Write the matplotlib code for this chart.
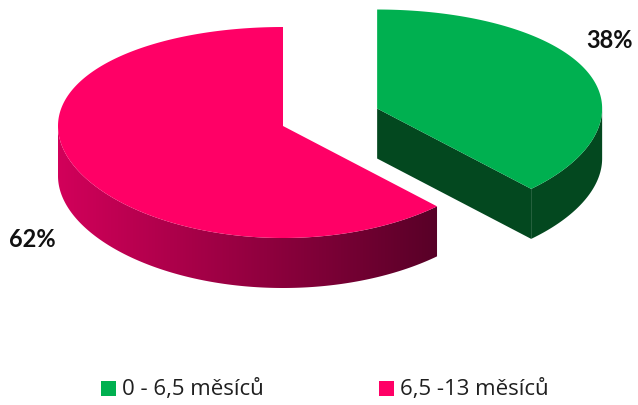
import numpy as np
import matplotlib.pyplot as plt
from matplotlib.patches import Polygon, Rectangle
from matplotlib.colors import to_rgb

# data
labels = ['0 - 6,5 měsíců', '6,5 -13 měsíců']
shares = [38, 62]

top_colors = ['#00B050', '#FF0066']
side_light = ['#03481F', '#D2005A']
side_dark = ['#03481F', '#580027']
explode = [0.45, 0.0]
label_pos = [(610, 40), (32, 240)]

W, H = 638, 406
fig = plt.figure(figsize=(W / 100, H / 100), dpi=100)
ax = fig.add_axes([0, 0, 1, 1])
ax.set_xlim(0, W)
ax.set_ylim(H, 0)
ax.axis('off')

plt.rcParams['font.family'] = ['Lato', 'DejaVu Sans']

cx, cy = 283, 127
rx = 225
ry_mid, ry_bend = 105.5, 6.5   # slight perspective: front half taller than back
depth = 50


def proj(x0, y0, t, r=1.0):
    u, v = r * np.cos(t), r * np.sin(t)
    return x0 + rx * u, y0 - ry_mid * v + ry_bend * v * v


def side_gradient(poly, x0, x1, c0, c1):
    # horizontal colour ramp clipped to the wall outline
    f = np.linspace(0, 1, 256)[None, :, None]
    a, b = np.array(to_rgb(c0)), np.array(to_rgb(c1))
    img = a + (b - a) * f
    ys = [p[1] for p in poly]
    im = ax.imshow(img, extent=(x0, x1, max(ys) + 1, min(ys) - 1),
                   aspect='auto', interpolation='bilinear', zorder=1)
    patch = Polygon(poly, closed=True, fc='none', ec='none')
    ax.add_patch(patch)
    im.set_clip_path(patch)


start = 90.0
for i, share in enumerate(shares):
    a0 = np.deg2rad(start)
    a1 = np.deg2rad(start - share / 100 * 360)
    mid = (a0 + a1) / 2
    ox = cx + explode[i] * rx * np.cos(mid)
    oy = cy - explode[i] * ry_mid * np.sin(mid)

    ts = np.linspace(a0, a1, 400)

    # cut faces turned towards the viewer
    for t, sign in ((a1, 1), (a0, -1)):
        if sign * np.cos(t) > 1e-6:
            ex, ey = proj(ox, oy, t)
            quad = [(ox, oy), (ex, ey), (ex, ey + depth), (ox, oy + depth)]
            ax.add_patch(Polygon(quad, closed=True, fc=side_dark[i], ec='none', zorder=1))

    # outer wall, front half only
    front = ts[np.sin(ts) <= 0]
    fx, fy = proj(ox, oy, front)
    wall = list(zip(fx, fy)) + list(zip(fx[::-1], fy[::-1] + depth))
    if side_light[i] == side_dark[i]:
        ax.add_patch(Polygon(wall, closed=True, fc=side_dark[i], ec='none', zorder=1))
    else:
        side_gradient(wall, fx.min(), fx.max(), side_light[i], side_dark[i])

    # top face
    xs, ys = proj(ox, oy, ts)
    top = [(ox, oy)] + list(zip(xs, ys))
    ax.add_patch(Polygon(top, closed=True, fc=top_colors[i], ec='none', zorder=2))

    ax.text(label_pos[i][0], label_pos[i][1], f'{share}%', fontsize=17,
            fontweight='bold', color='#111111', ha='center', va='center', zorder=3)

    start -= share / 100 * 360

# legend
legend_x = [101, 379]
for x, c, l in zip(legend_x, top_colors, labels):
    ax.add_patch(Rectangle((x, 382), 15, 15, fc=c, ec='none'))
    ax.text(x + 21, 389.5, l, fontsize=16, color='#1f1f1f', ha='left', va='center',
            family=['Open Sans', 'DejaVu Sans'])

fig.savefig('out.png', dpi=100)
